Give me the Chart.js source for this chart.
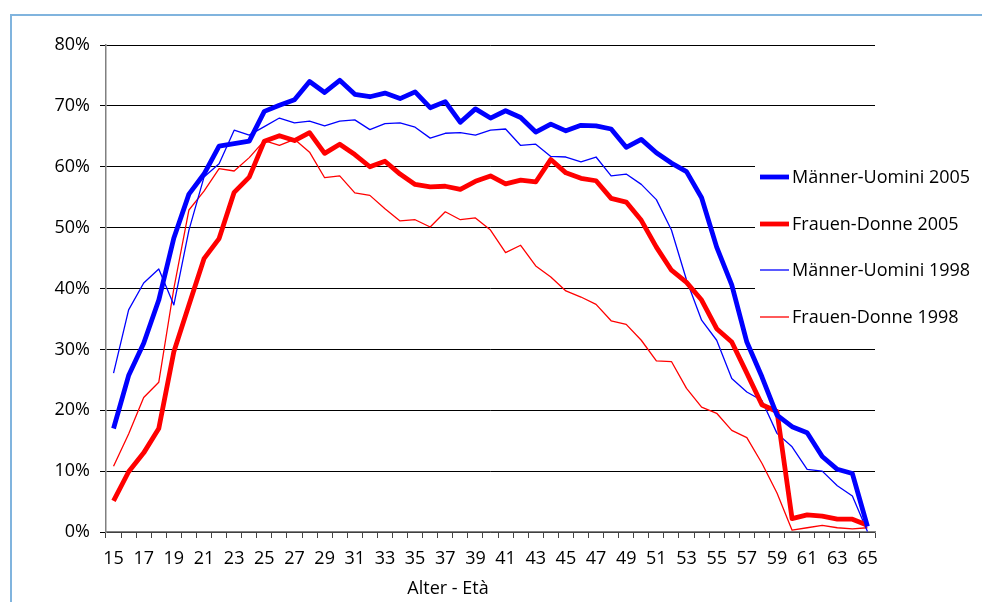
<!DOCTYPE html>
<html>
<head>
<meta charset="utf-8">
<script src="https://cdn.jsdelivr.net/npm/chart.js@4.4.1/dist/chart.umd.min.js"></script>
<style>
  html, body { margin: 0; padding: 0; background: #fff; }
  #wrap { width: 982px; height: 602px; position: relative; }
</style>
</head>
<body>
<div id="wrap"><canvas id="c" width="982" height="602"></canvas></div>
<script>
const ages = [15,16,17,18,19,20,21,22,23,24,25,26,27,28,29,30,31,32,33,34,35,36,37,38,39,40,
              41,42,43,44,45,46,47,48,49,50,51,52,53,54,55,56,57,58,59,60,61,62,63,64,65];

const men2005 = [17.0,25.7,31.0,38.1,48.3,55.5,58.8,63.4,63.8,64.2,
                 69.1,70.1,71.0,74.0,72.2,74.2,71.9,71.5,72.1,71.2,
                 72.3,69.7,70.7,67.3,69.5,68.0,69.2,68.1,65.7,67.0,
                 65.9,66.8,66.7,66.2,63.2,64.5,62.3,60.6,59.2,54.9,
                 46.8,40.6,31.2,25.5,19.2,17.3,16.3,12.4,10.3,9.6,0.9];

const women2005 = [5.1,9.9,13.0,17.0,29.6,37.3,44.9,48.2,55.8,58.3,
                   64.2,65.1,64.3,65.6,62.2,63.7,62.0,60.0,60.9,58.8,
                   57.1,56.7,56.8,56.3,57.6,58.5,57.2,57.8,57.5,61.2,
                   59.0,58.1,57.7,54.8,54.2,51.2,46.8,43.0,41.0,38.1,
                   33.4,31.2,26.1,20.9,19.8,2.2,2.8,2.6,2.1,2.1,1.1];

const men1998 = [26.1,36.5,40.9,43.2,37.3,49.6,58.3,60.5,66.0,65.2,
                 66.6,68.0,67.2,67.5,66.7,67.5,67.7,66.1,67.1,67.2,
                 66.5,64.7,65.5,65.6,65.2,66.0,66.2,63.5,63.7,61.7,
                 61.6,60.8,61.6,58.5,58.8,57.1,54.6,49.6,41.4,34.8,
                 31.5,25.2,23.0,21.6,16.2,14.0,10.3,10.0,7.6,5.9,0.1];

const women1998 = [10.8,16.1,22.1,24.6,40.0,52.9,56.0,59.7,59.3,61.5,
                   64.3,63.5,64.5,62.4,58.2,58.5,55.7,55.3,53.1,51.1,
                   51.3,50.1,52.6,51.3,51.6,49.6,45.9,47.1,43.7,41.9,
                   39.6,38.6,37.4,34.7,34.1,31.5,28.1,28.0,23.6,20.5,
                   19.5,16.7,15.5,11.3,6.4,0.3,0.7,1.1,0.7,0.5,0.7];

const seriesNames = ["Männer-Uomini 2005","Frauen-Donne 2005","Männer-Uomini 1998","Frauen-Donne 1998"];
const yTicks = [0,10,20,30,40,50,60,70,80];
const xTitle = "Alter - Età";

const FONT = "'Open Sans', 'DejaVu Sans', sans-serif";
Chart.defaults.font.family = FONT;
Chart.defaults.font.size = 18;
Chart.defaults.color = '#000';

const extras = {
  id: 'extras',
  beforeDraw(chart) {
    const ctx = chart.ctx;
    ctx.save();
    ctx.fillStyle = '#fff';
    ctx.fillRect(0, 0, chart.width, chart.height);
    ctx.strokeStyle = '#80b4de';
    ctx.lineWidth = 2;
    ctx.strokeRect(11, 15, chart.width + 20, chart.height + 20);
    ctx.restore();
  },
  beforeDatasetsDraw(chart) {
    const ctx = chart.ctx;
    ctx.save();
    ctx.fillStyle = '#fff';
    ctx.fillRect(755, 145, 225, 198);
    ctx.restore();
  },
  afterDraw(chart) {
    const ctx = chart.ctx;
    ctx.save();
    const rows = [177, 224, 270, 317];
    chart.data.datasets.forEach((ds, i) => {
      ctx.strokeStyle = ds.borderColor;
      ctx.lineWidth = ds.borderWidth;
      ctx.beginPath();
      ctx.moveTo(760, rows[i]);
      ctx.lineTo(789, rows[i]);
      ctx.stroke();
      ctx.fillStyle = '#000';
      ctx.font = "18px " + FONT;
      ctx.textBaseline = 'middle';
      ctx.textAlign = 'left';
      ctx.fillText(ds.label, 792, rows[i] + 1);
    });
    ctx.font = "18px " + FONT;
    ctx.textAlign = 'center';
    ctx.textBaseline = 'middle';
    ctx.fillText(xTitle, 448, 589);
    ctx.restore();
  }
};

new Chart(document.getElementById('c'), {
  type: 'line',
  data: {
    labels: ages,
    datasets: [
      { label: seriesNames[0], data: men2005, borderColor: '#0000ff', borderWidth: 4.8 },
      { label: seriesNames[1], data: women2005, borderColor: '#ff0000', borderWidth: 4.8 },
      { label: seriesNames[2], data: men1998, borderColor: '#0000ff', borderWidth: 1.3 },
      { label: seriesNames[3], data: women1998, borderColor: '#ff0000', borderWidth: 1.3 }
    ]
  },
  options: {
    responsive: false,
    animation: false,
    devicePixelRatio: 1,
    layout: { padding: { left: 0, right: 107, top: 45, bottom: 0 } },
    elements: {
      point: { radius: 0, hoverRadius: 0 },
      line: { tension: 0, borderJoinStyle: 'round', fill: false }
    },
    plugins: { legend: { display: false }, tooltip: { enabled: false } },
    scales: {
      x: {
        type: 'category',
        offset: true,
        afterFit(s) { s.height = 70; },
        grid: { offset: true, drawOnChartArea: false, drawTicks: true, tickLength: 6, color: '#444', lineWidth: 1 },
        border: { color: '#808080', width: 1.5 },
        ticks: {
          autoSkip: false, maxRotation: 0, minRotation: 0, padding: 10,
          callback(v, i) { return (ages[i] % 2 === 1) ? String(ages[i]) : ''; }
        }
      },
      y: {
        min: 0, max: 80,
        afterFit(s) { s.width = 106; },
        afterBuildTicks(s) { s.ticks = yTicks.map(v => ({ value: v })); },
        grid: { color: '#000', lineWidth: 1, tickLength: 6, drawTicks: true },
        border: { color: '#808080', width: 1.5 },
        ticks: { padding: 10, callback(v) { return v + '%'; } }
      }
    }
  },
  plugins: [extras]
});
</script>
</body>
</html>
